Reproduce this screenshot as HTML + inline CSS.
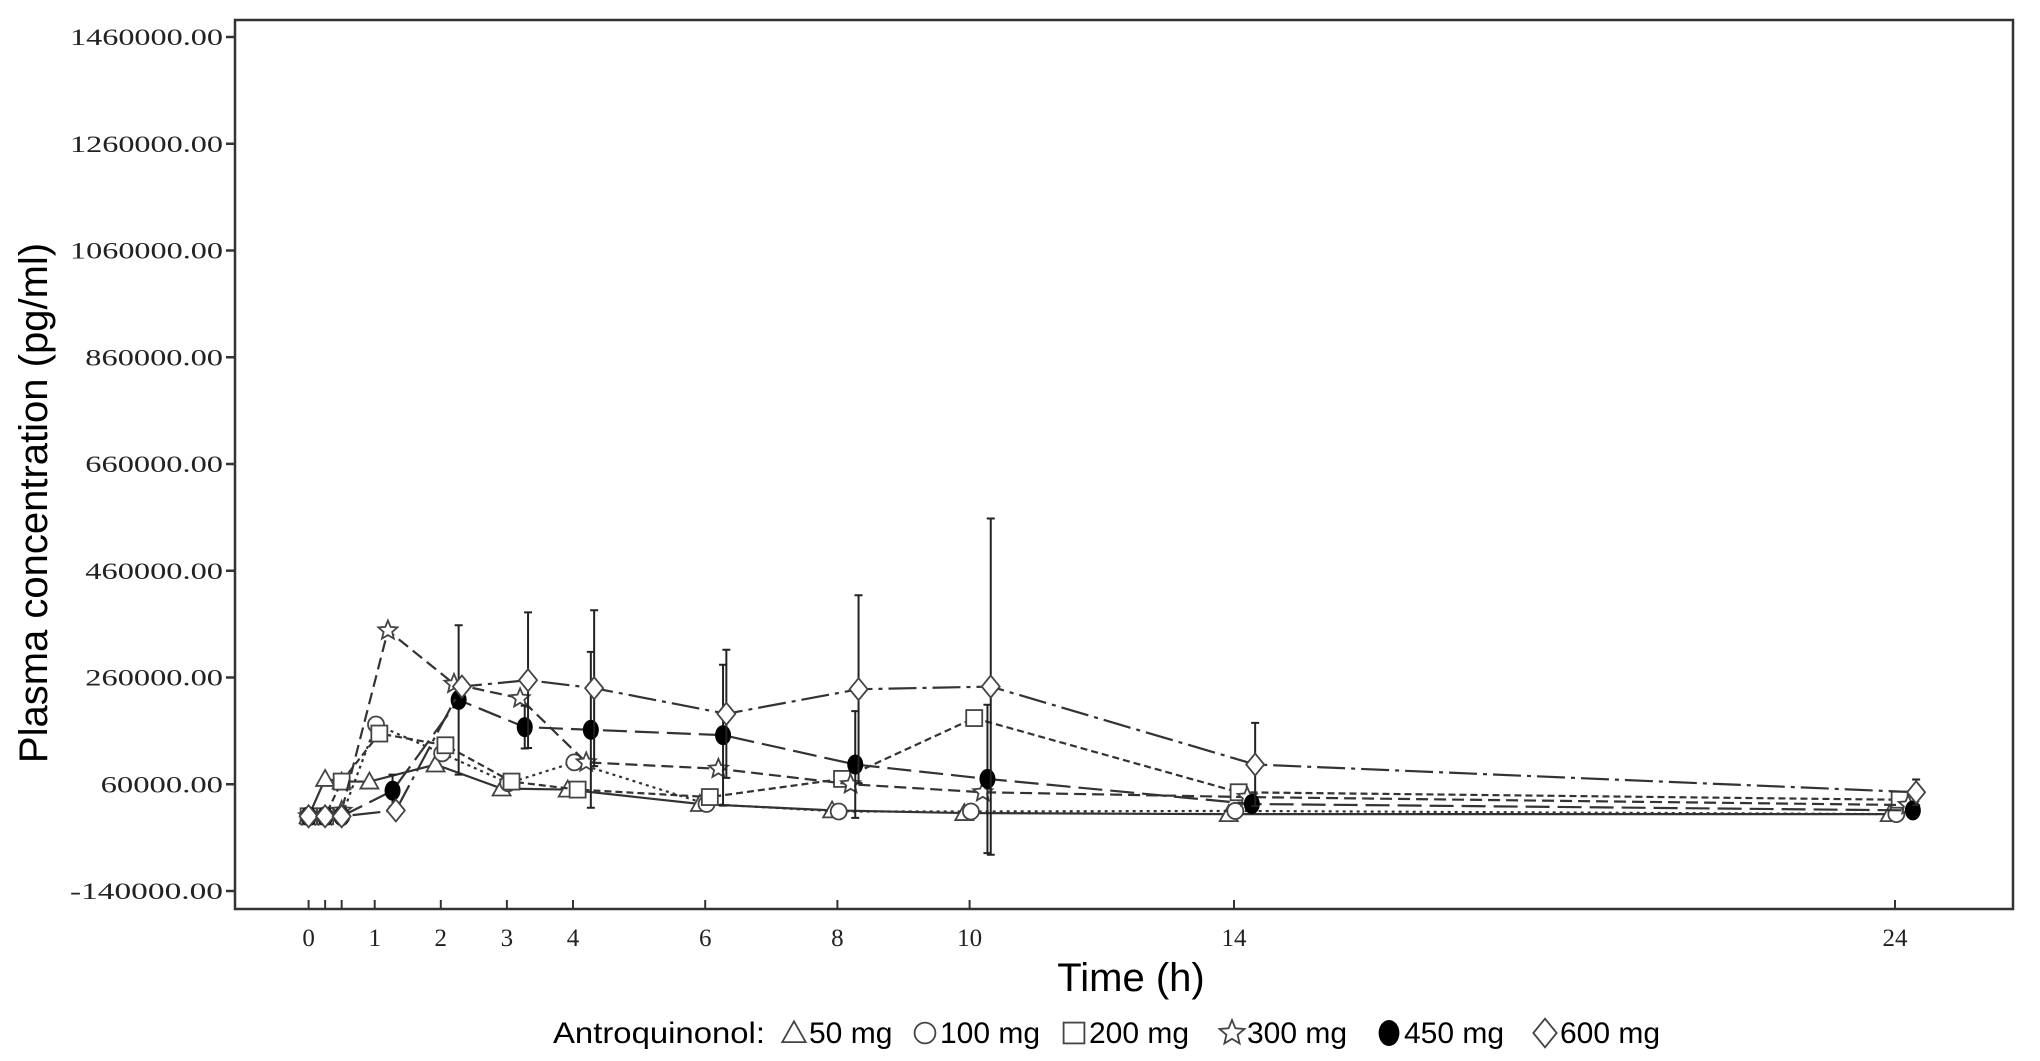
<!DOCTYPE html>
<html><head><meta charset="utf-8"><style>
body{margin:0;background:#fff;}
svg{display:block;}
text{font-family:"Liberation Sans",sans-serif;fill:#000;}
.tk{font-family:"Liberation Serif",serif;font-size:23px;fill:#222;}
</style></head><body>
<svg id="chart" width="2040" height="1061" viewBox="0 0 2040 1061" xmlns="http://www.w3.org/2000/svg">
<g id="axes"></g><g id="series"></g><g id="legend"></g>
</svg>
<script>
const times = [0, 0.25, 0.5, 1, 2, 3, 4, 6, 8, 10, 14, 24];
const seriesNames = ["50 mg","100 mg","200 mg","300 mg","450 mg","600 mg"];
const v50  = [0, 70000, 65000, 65000, 97000, 52000, 50000, 23000, 11000, 6000, 4000, 4000];
const v100 = [0, 0, 0, 172000, 118000, 62000, 101000, 23000, 9000, 9000, 10000, 4000];
const v200 = [0, 0, 65000, 155000, 133000, 65000, 50000, 36000, 70000, 184000, 45000, 31000];
const v300 = [0, 0, 10000, 348000, 248000, 221000, 101000, 89000, 60000, 45000, 36000, 21000];
const v450 = [0, 0, 0, 48000, 218000, 167000, 162000, 152000, 97000, 70000, 23000, 11000];
const v600 = [0, 0, 0, 11000, 243000, 255000, 240000, 192000, 238000, 243000, 97000, 45000];
const e450 = [0, 0, 0, 30000, 140000, 40000, 146000, 132000, 100000, 139000, 15000, 8000];
const e600 = [0, 0, 0, 0, 0, 127000, 146000, 120000, 176000, 315000, 78000, 24000];
const yTicks = [1460000,1260000,1060000,860000,660000,460000,260000,60000,-140000];
const xTicks = [0,1,2,3,4,6,8,10,14,24];
const xMinor = [0.25,0.5];

const NS="http://www.w3.org/2000/svg";
const X0=308.6, PX=66.1;
function xs(t){return X0+t*PX;}
function ys(v){return 37+(1460000-v)*854/1600000;}
function mk(tag,attrs,parent){const e=document.createElementNS(NS,tag);for(const k in attrs)e.setAttribute(k,attrs[k]);parent.appendChild(e);return e;}
const axes=document.getElementById('axes'), sg=document.getElementById('series'), lg=document.getElementById('legend');

const fr=mk('rect',{x:235,y:20,width:1778,height:889,fill:'none',stroke:'#333','stroke-width':2.5},axes);


yTicks.forEach(v=>{
  const y=ys(v);
  const l=mk('line',{x1:226,x2:235,y1:y,y2:y,stroke:'#333','stroke-width':2.5},axes);
  
  
  const s=v.toFixed(2);
  const t=mk('text',{x:223,y:y+8,'text-anchor':'end',class:'tk',textLength:s.length*15.3,lengthAdjust:'spacingAndGlyphs'},axes);
  t.textContent=s;
  
  
});
xTicks.concat(xMinor).forEach(v=>{
  const x=xs(v);
  const l=mk('line',{x1:x,x2:x,y1:900,y2:909,stroke:'#333','stroke-width':2},axes);
  
  
});
xTicks.forEach(v=>{
  const t=mk('text',{x:xs(v),y:946,'text-anchor':'middle',class:'tk',style:'font-size:25px'},axes);
  t.textContent=v;
  
  
});
const yt=mk('text',{x:0,y:0,'text-anchor':'middle',transform:'translate(47,503) rotate(-90)',style:'font-size:40px'},axes);
yt.textContent='Plasma concentration (pg/ml)';


const xt=mk('text',{x:1131,y:991,'text-anchor':'middle',style:'font-size:40px'},axes);
xt.textContent='Time (h)';



const vals=[v50,v100,v200,v300,v450,v600];
const offs=[-0.08,0.02,0.07,0.2,0.27,0.32];
const dashes=['none','3,4','7,4','12,6','24,8','28,6,4,6'];
const shapes=['tri','circ','sq','star','dot','dia'];
function marker(shape,x,y,p,s){
  s=s||1;
  const st={fill:'#fff',stroke:'#444','stroke-width':1.8};
  let e;
  if(shape==='tri') e=mk('polygon',Object.assign({points:`${x},${y-9*s} ${x-9*s},${y+7*s} ${x+9*s},${y+7*s}`},st),p);
  else if(shape==='circ') e=mk('circle',Object.assign({cx:x,cy:y,r:8*s},st),p);
  else if(shape==='sq') e=mk('rect',Object.assign({x:x-8*s,y:y-8*s,width:16*s,height:16*s},st),p);
  else if(shape==='dia') e=mk('polygon',Object.assign({points:`${x},${y-11*s} ${x+9*s},${y} ${x},${y+11*s} ${x-9*s},${y}`},st),p);
  else if(shape==='dot') e=mk('ellipse',{cx:x,cy:y,rx:8*s,ry:10*s,fill:'#000'},p);
  else { let pts=[];for(let i=0;i<10;i++){const r=(i%2?4.5:10)*s;const a=-Math.PI/2+i*Math.PI/5;pts.push((x+r*Math.cos(a)).toFixed(1)+','+(y+r*Math.sin(a)).toFixed(1));}
    e=mk('polygon',Object.assign({points:pts.join(' ')},st),p);}
  return e;
}
vals.forEach((arr,si)=>{
  const g=mk('g',{},sg);
  
  
  const pts=arr.map((v,i)=>xs(times[i]+(i>2?offs[si]:0))+','+ys(v)).join(' ');
  const pl=mk('polyline',{points:pts,fill:'none',stroke:'#333','stroke-width':2.2,'stroke-dasharray':dashes[si]},g);
  
  
  const err=si===4?e450:(si===5?e600:null);
  arr.forEach((v,i)=>{
    const x=xs(times[i]+(i>2?offs[si]:0));
    if(err&&err[i]>0){
      const eb=mk('path',{d:`M${x},${ys(v+err[i])}V${ys(v-err[i])}M${x-4},${ys(v+err[i])}h8M${x-4},${ys(v-err[i])}h8`,stroke:'#222','stroke-width':2,fill:'none'},g);
      
      
    }
    const m=marker(shapes[si],x,ys(v),g);
    
    
  });
});
const lt=mk('text',{x:553,y:1043,style:'font-size:30px',textLength:212,lengthAdjust:'spacingAndGlyphs'},lg);
lt.textContent='Antroquinonol:';


const lx=[794,925,1074,1232,1389,1545];
seriesNames.forEach((n,i)=>{
  const m=marker(shapes[i],lx[i],1033,lg,1.3);
  
  
  const t=mk('text',{x:lx[i]+15,y:1043,style:'font-size:30px'},lg);
  t.textContent=n;
  
  
});
</script>
</body></html>
